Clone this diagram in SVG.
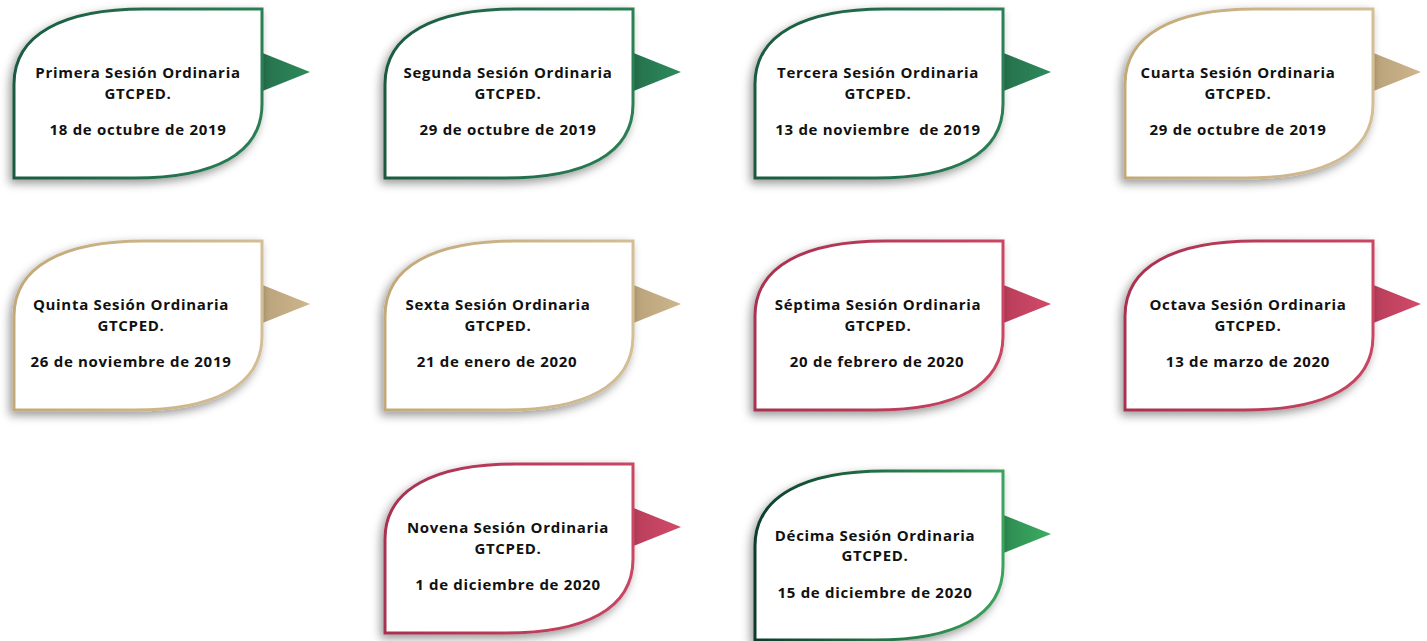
<svg xmlns="http://www.w3.org/2000/svg" xmlns:xlink="http://www.w3.org/1999/xlink" width="1427" height="641" viewBox="0 0 1427 641">
<style>
text{font-family:"Open Sans","Liberation Sans",sans-serif;font-weight:700;font-size:15px;letter-spacing:0.7px;fill:#111;text-anchor:middle}
.box{fill:#fff;stroke-width:3;filter:url(#sh)}
.g .box{stroke:url(#gG)} .g .tri{fill:url(#tG)}
.o .box{stroke:url(#gO)} .o .tri{fill:url(#tO)}
.r .box{stroke:url(#gR)} .r .tri{fill:url(#tR)}
.d .box{stroke:url(#gD)} .d .tri{fill:url(#tD)}
</style>
<defs>
<filter id="sh" x="-20%" y="-20%" width="140%" height="140%"><feDropShadow dx="-3" dy="4" stdDeviation="5" flood-color="#000" flood-opacity="0.4"/></filter>
<linearGradient id="gG" x1="0" x2="1"><stop offset="0" stop-color="#1b5a40"/><stop offset="1" stop-color="#2a7f55"/></linearGradient>
<linearGradient id="tG" x1="0" x2="1"><stop offset="0" stop-color="#24704c"/><stop offset="1" stop-color="#2f8a5c"/></linearGradient>
<linearGradient id="gO" x1="0" x2="1"><stop offset="0" stop-color="#c2a979"/><stop offset="1" stop-color="#d3be95"/></linearGradient>
<linearGradient id="tO" x1="0" x2="1"><stop offset="0" stop-color="#b9a27a"/><stop offset="1" stop-color="#cdb68c"/></linearGradient>
<linearGradient id="gR" x1="0" x2="1"><stop offset="0" stop-color="#a8304f"/><stop offset="1" stop-color="#c94663"/></linearGradient>
<linearGradient id="tR" x1="0" x2="1"><stop offset="0" stop-color="#b83d5a"/><stop offset="1" stop-color="#d14b69"/></linearGradient>
<linearGradient id="gD" x1="0" x2="1"><stop offset="0" stop-color="#0c3d2c"/><stop offset="1" stop-color="#3ba35e"/></linearGradient>
<linearGradient id="tD" x1="0" x2="1"><stop offset="0" stop-color="#2c8a50"/><stop offset="1" stop-color="#3dad63"/></linearGradient>
<path id="shape" d="M0,169 L0,75 C0,25 50,0 130,0 L248,0 L248,95 C248,145 200,169 120,169 Z"/>
<polygon id="tri" points="246,43 296,63 246,83"/>
</defs>
<g id="n1" class="g" transform="translate(14,9)"><use href="#tri" class="tri"/><use href="#shape" class="box"/>
<text x="124" y="69">Primera Sesión Ordinaria</text><text x="124" y="90">GTCPED.</text><text x="124" y="126">18 de octubre de 2019</text></g>
<g id="n2" class="g" transform="translate(385,9)"><use href="#tri" class="tri"/><use href="#shape" class="box"/>
<text x="123" y="69">Segunda Sesión Ordinaria</text><text x="123" y="90">GTCPED.</text><text x="123" y="126">29 de octubre de 2019</text></g>
<g id="n3" class="g" transform="translate(755,9)"><use href="#tri" class="tri"/><use href="#shape" class="box"/>
<text x="123" y="69">Tercera Sesión Ordinaria</text><text x="123" y="90">GTCPED.</text><text x="123" y="126" xml:space="preserve">13 de noviembre  de 2019</text></g>
<g id="n4" class="o" transform="translate(1125,9)"><use href="#tri" class="tri"/><use href="#shape" class="box"/>
<text x="113" y="69">Cuarta Sesión Ordinaria</text><text x="113" y="90">GTCPED.</text><text x="113" y="126">29 de octubre de 2019</text></g>
<g id="n5" class="o" transform="translate(14,241)"><use href="#tri" class="tri"/><use href="#shape" class="box"/>
<text x="117" y="69">Quinta Sesión Ordinaria</text><text x="117" y="90">GTCPED.</text><text x="117" y="126">26 de noviembre de 2019</text></g>
<g id="n6" class="o" transform="translate(385,241)"><use href="#tri" class="tri"/><use href="#shape" class="box"/>
<text x="113" y="69">Sexta Sesión Ordinaria</text><text x="113" y="90">GTCPED.</text><text x="112" y="126">21 de enero de 2020</text></g>
<g id="n7" class="r" transform="translate(755,241)"><use href="#tri" class="tri"/><use href="#shape" class="box"/>
<text x="123" y="69">Séptima Sesión Ordinaria</text><text x="123" y="90">GTCPED.</text><text x="122" y="126">20 de febrero de 2020</text></g>
<g id="n8" class="r" transform="translate(1125,241)"><use href="#tri" class="tri"/><use href="#shape" class="box"/>
<text x="123" y="69">Octava Sesión Ordinaria</text><text x="123" y="90">GTCPED.</text><text x="123" y="126">13 de marzo de 2020</text></g>
<g id="n9" class="r" transform="translate(385,464)"><use href="#tri" class="tri"/><use href="#shape" class="box"/>
<text x="123" y="69">Novena Sesión Ordinaria</text><text x="123" y="90">GTCPED.</text><text x="123" y="126">1 de diciembre de 2020</text></g>
<g id="n10" class="d" transform="translate(755,471)"><use href="#tri" class="tri"/><use href="#shape" class="box"/>
<text x="120" y="70">Décima Sesión Ordinaria</text><text x="120" y="90">GTCPED.</text><text x="120" y="127">15 de diciembre de 2020</text></g>
<g id="connectors"></g>
</svg>
